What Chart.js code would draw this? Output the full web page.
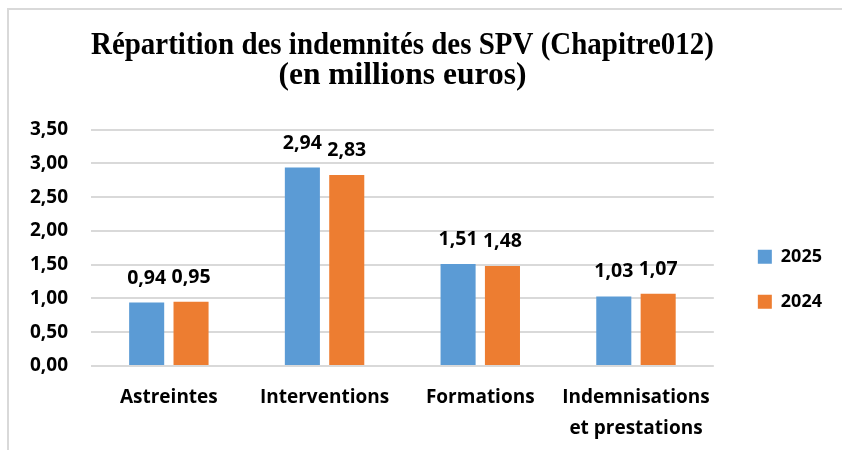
<!DOCTYPE html>
<html>
<head>
<meta charset="utf-8">
<script src="https://cdn.jsdelivr.net/npm/chart.js@4.4.1/dist/chart.umd.min.js"></script>
<style>
  html, body { margin: 0; padding: 0; background: #fff; }
  #wrap { position: relative; width: 842px; height: 450px; }
</style>
</head>
<body>
<div id="wrap"><canvas id="myChart"></canvas></div>
<script>
var categories = ['Astreintes', 'Interventions', 'Formations', ['Indemnisations', 'et prestations']];
var values2025 = [0.94, 2.94, 1.51, 1.03];
var values2024 = [0.95, 2.83, 1.48, 1.07];
var seriesNames = ['2025', '2024'];
var titleLines = ['Répartition des indemnités des SPV (Chapitre012)', '(en millions euros)'];

var labelFont = 'Open Sans';

function frNum(v) {
  return v.toFixed(2).replace('.', ',');
}

// cadre gris autour du graphique
var framePlugin = {
  id: 'frame',
  beforeDraw: function (chart) {
    var ctx = chart.ctx;
    ctx.save();
    ctx.fillStyle = '#fff';
    ctx.fillRect(0, 0, chart.width, chart.height);
    ctx.strokeStyle = '#d9d9d9';
    ctx.lineWidth = 2;
    ctx.strokeRect(8, 9, 900, 500);
    ctx.restore();
  }
};

// valeurs au-dessus des barres
var valueLabels = {
  id: 'valueLabels',
  afterDatasetsDraw: function (chart) {
    var ctx = chart.ctx;
    ctx.save();
    ctx.font = 'bold 19.5px ' + labelFont;
    ctx.fillStyle = '#000';
    ctx.textAlign = 'center';
    ctx.textBaseline = 'alphabetic';
    chart.data.datasets.forEach(function (ds, i) {
      chart.getDatasetMeta(i).data.forEach(function (bar, j) {
        ctx.fillText(frNum(ds.data[j]), bar.x, bar.y - 19);
      });
    });
    ctx.restore();
  }
};

var myChart = new Chart('myChart', {
  type: 'bar',
  data: {
    labels: categories,
    datasets: [{
      label: seriesNames[0],
      data: values2025,
      backgroundColor: '#5b9bd5',
      categoryPercentage: 0.57,
      barPercentage: 0.79
    }, {
      label: seriesNames[1],
      data: values2024,
      backgroundColor: '#ed7d31',
      categoryPercentage: 0.57,
      barPercentage: 0.79
    }]
  },
  options: {
    responsive: true,
    maintainAspectRatio: false,
    animation: false,
    layout: { padding: { left: 7, right: 10, top: 0, bottom: 4 } },
    plugins: {
      title: {
        display: true,
        text: titleLines,
        fullSize: false,
        color: '#000',
        font: { family: 'Liberation Serif', size: 31.5, weight: 'bold', lineHeight: 0.98 },
        padding: { top: 30, bottom: 38 }
      },
      legend: {
        position: 'right',
        title: { display: true, text: ' ', padding: 49, font: { size: 12 } },
        labels: {
          boxWidth: 14,
          boxHeight: 14,
          padding: 27,
          color: '#000',
          font: { family: labelFont, size: 18, weight: 'bold' }
        }
      },
      tooltip: { enabled: false }
    },
    scales: {
      x: {
        grid: { display: false, drawTicks: false },
        border: { display: false },
        ticks: {
          color: '#000',
          padding: 16,
          font: { family: labelFont, size: 19, weight: 'bold', lineHeight: 1.65 }
        },
        afterFit: function (s) { s.height = 80; }
      },
      y: {
        min: 0,
        max: 3.5,
        grid: { color: '#d9d9d9', lineWidth: 2, drawTicks: false },
        border: { display: false },
        ticks: {
          stepSize: 0.5,
          padding: 23,
          color: '#000',
          font: { family: labelFont, size: 19, weight: 'bold' },
          callback: function (v) { return frNum(v); }
        },
        afterFit: function (s) { s.width = 84; }
      },
      spacer: {
        position: 'right',
        display: true,
        grid: { display: false },
        border: { display: false },
        ticks: { display: false },
        afterFit: function (s) { s.width = 17; }
      }
    }
  },
  plugins: [framePlugin, valueLabels]
});
</script>
</body>
</html>
